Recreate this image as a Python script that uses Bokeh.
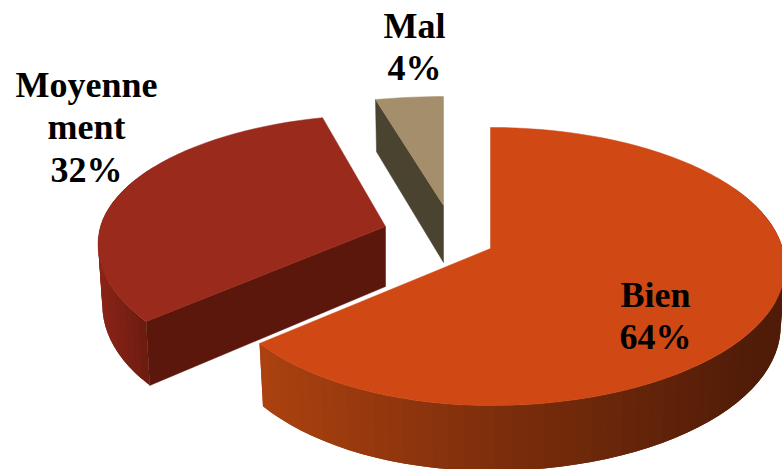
import numpy as np
from bokeh.plotting import figure
from bokeh.models import Range1d
from bokeh.core.properties import value
from bokeh.embed import file_html
from bokeh.resources import INLINE

categories = ["Bien", "Moyennement", "Mal"]
percents = [64, 32, 4]
label_lines = [["Bien", "64%"], ["Moyenne", "ment", "32%"], ["Mal", "4%"]]

# styles and layout
top_colors = ["#D04814", "#9A2A1C", "#A58E6B"]
cut_colors = ["#5C170D", "#5C170D", "#4A4330"]
wall_stops = [
    [(260, (172, 66, 16)), (500, (125, 46, 12)), (760, (80, 28, 8))],
    [(97, (140, 36, 24)), (148, (108, 28, 16))],
    [(375, (74, 67, 48)), (443, (74, 67, 48))],
]
# per slice: screen position of the apex, horizontal scales, scale of the far half, wall depth
apex = [(490, 248), (385, 226), (443, 205)]
scale_left = [0.965, 1.0, 1.08]
scale_right = [1.025, 1.0, 1.08]
scale_far = [1.0, 0.925, 0.9]
depth = [59, 60, 57]
label_pos = [(655, [294, 336]), (86, [84, 126, 169]), (414, [25, 67])]

RX, RY, K, BOTTOM = 285, 136.7, 0.1295, 0.985


def project(i, X, Y, lower=False):
    X, Y = np.asarray(X, float), np.asarray(Y, float)
    w = 1 + K * Y
    f = BOTTOM if lower else 1.0
    sx = np.where(X < 0, scale_left[i], scale_right[i])
    x = apex[i][0] + f * sx * RX * X / w
    y = apex[i][1] - f * np.where(Y > 0, scale_far[i], 1.0) * RY * Y / w
    if lower:
        y = y + depth[i] / w
    return x, y


def lerp_color(stops, x):
    xs = [s[0] for s in stops]
    rgb = [int(np.interp(x, xs, [s[1][i] for s in stops])) for i in range(3)]
    return "#%02x%02x%02x" % tuple(rgb)


p = figure(width=782, height=469, output_backend="svg", toolbar_location=None,
           x_range=Range1d(0, 782), y_range=Range1d(469, 0), min_border=0)
p.axis.visible = False
p.grid.visible = False
p.outline_line_color = None
p.background_fill_color = "white"
p.border_fill_color = "white"

fractions = np.cumsum([0] + percents) / sum(percents) * 2 * np.pi
for i in [2, 1, 0]:
    a = np.linspace(fractions[i], fractions[i + 1], int(6 + 120 * percents[i] / 100))
    X, Y = np.sin(a), np.cos(a)
    tx, ty = project(i, X, Y)
    bx, by = project(i, X, Y, lower=True)

    # outer wall, as strips that overlap so that its shading varies along the arc
    xs, ys, cols = [], [], []
    for j in range(len(a) - 1):
        if Y[j] < 0.5 and Y[j + 1] < 0.5:
            e = min(j + 2, len(a) - 1)
            xs.append([tx[j], tx[j + 1], tx[e], bx[e], bx[j + 1], bx[j]])
            ys.append([ty[j], ty[j + 1], ty[e], by[e], by[j + 1], by[j]])
            cols.append(lerp_color(wall_stops[i], (tx[j] + tx[j + 1]) / 2))
    if xs:
        p.patches(xs, ys, fill_color=cols, line_color=None)

    # cut face that looks towards the viewer
    ax, ay = project(i, [0], [0])
    abx, aby = project(i, [0], [0], lower=True)
    if i in (1, 2):
        p.patch([ax[0], tx[0], bx[0], abx[0]], [ay[0], ty[0], by[0], aby[0]],
                fill_color=cut_colors[i], line_color=cut_colors[i], line_width=0.5)

    # top surface
    p.patch(list(tx) + [ax[0]], list(ty) + [ay[0]], fill_color=top_colors[i],
            line_color=top_colors[i], line_width=0.5)

for lines, (lx, lys) in zip(label_lines, label_pos):
    p.text([lx] * len(lines), lys, text=lines, text_align="center", text_baseline="middle",
           text_font=value("Liberation Serif"), text_font_style="bold",
           text_font_size="36px", text_color="black")

open("out.html", "w").write(file_html(p, INLINE))
